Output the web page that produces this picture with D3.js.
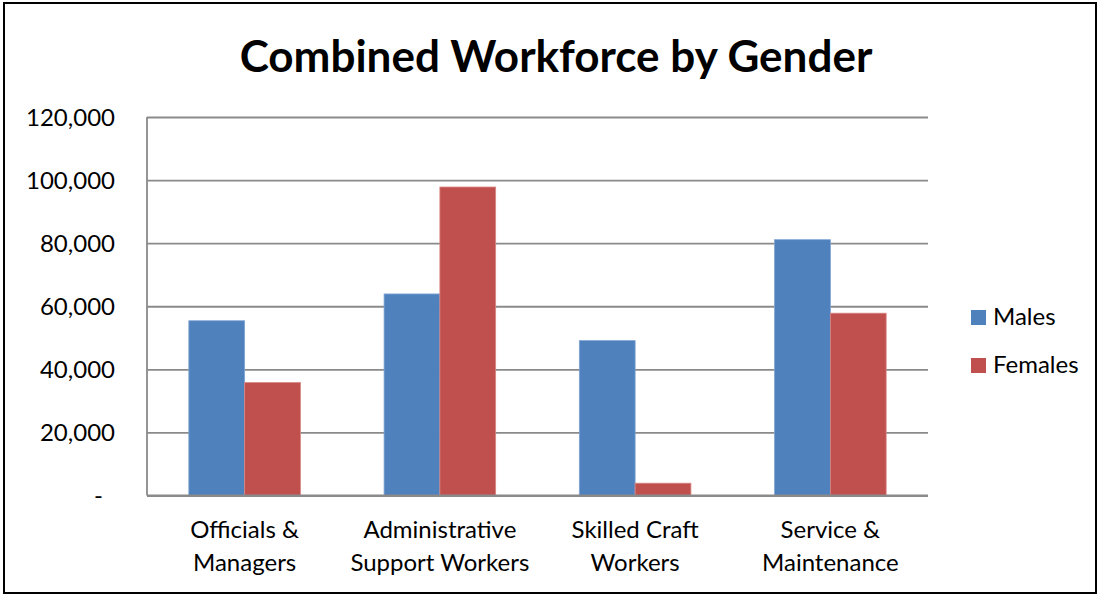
<!DOCTYPE html>
<html>
<head>
<meta charset="utf-8">
<script src="https://cdn.jsdelivr.net/npm/d3@7"></script>
<style>
  html, body { margin: 0; padding: 0; background: #fff; }
  svg { display: block; font-family: Lato, "Open Sans", sans-serif; }
</style>
</head>
<body>
<svg id="chart" width="1100" height="595"></svg>
<script>
// Workforce headcount by job category and gender
const categories = [
  ["Officials &", "Managers"],
  ["Administrative", "Support Workers"],
  ["Skilled Craft", "Workers"],
  ["Service &", "Maintenance"]
];
const seriesNames = ["Males", "Females"];
const males   = [55400, 63900, 49100, 81100];
const females = [35800, 97800, 3900, 57800];
const yTicks  = [0, 20000, 40000, 60000, 80000, 100000, 120000];
const colors  = ["#4F81BD", "#C0504D"];

const svg = d3.select("#chart");

// outer frame
svg.append("rect")
  .attr("x", 4).attr("y", 3).attr("width", 1092).attr("height", 590)
  .attr("fill", "#fff").attr("stroke", "#000").attr("stroke-width", 2);

// title
svg.append("text")
  .attr("x", 556).attr("y", 72)
  .attr("text-anchor", "middle")
  .attr("font-weight", "bold")
  .attr("font-size", 44)
  .attr("fill", "#000")
  .text("Combined Workforce by Gender");

const plot = { left: 147, right: 928, top: 117, bottom: 495.5 };

const x0 = d3.scaleBand()
  .domain(d3.range(categories.length))
  .range([plot.left, plot.right])
  .paddingInner(1.5 / 3.5)
  .paddingOuter(0.75 / 3.5);

const x1 = d3.scaleBand()
  .domain(d3.range(seriesNames.length))
  .range([0, x0.bandwidth()]);

const y = d3.scaleLinear()
  .domain([0, 120000])
  .range([plot.bottom, plot.top]);

// gridlines and value axis
const fmt = d3.format(",");
const yAxis = svg.append("g")
  .attr("transform", `translate(${plot.left},0)`)
  .call(d3.axisLeft(y)
    .tickValues(yTicks)
    .tickSize(-(plot.right - plot.left))
    .tickPadding(32)
    .tickFormat(d => d === 0 ? "-" : fmt(d)));

yAxis.select(".domain").remove();
yAxis.selectAll(".tick line")
  .attr("stroke", "#8a8a8a")
  .attr("stroke-width", 1.8);
yAxis.selectAll(".tick text")
  .attr("font-size", 24)
  .attr("fill", "#000")
  .attr("dy", "0.34em")
  .attr("font-family", "Lato, 'Open Sans', sans-serif");
yAxis.selectAll(".tick").filter(d => d === 0).select("text")
  .attr("x", -44);

// left axis line
svg.append("line")
  .attr("x1", plot.left).attr("x2", plot.left)
  .attr("y1", plot.top).attr("y2", plot.bottom)
  .attr("stroke", "#8a8a8a").attr("stroke-width", 1.8);

// bars
const groups = svg.append("g").selectAll("g")
  .data(categories.map((c, i) => [males[i], females[i]]))
  .join("g")
  .attr("transform", (d, i) => `translate(${x0(i)},0)`);

groups.selectAll("rect")
  .data(d => d.map((v, s) => ({ v, s })))
  .join("rect")
  .attr("x", d => x1(d.s))
  .attr("width", x1.bandwidth())
  .attr("y", d => y(d.v))
  .attr("height", d => y(0) - y(d.v))
  .attr("fill", d => colors[d.s])
  .attr("stroke", d => d.s === 0 ? "#7fa3d3" : "#d98784")
  .attr("stroke-width", 0.8);

// baseline on top of bars
svg.append("line")
  .attr("x1", plot.left).attr("x2", plot.right)
  .attr("y1", plot.bottom).attr("y2", plot.bottom)
  .attr("stroke", "#8a8a8a").attr("stroke-width", 2);

// category labels
const catLabels = svg.append("g").selectAll("text")
  .data(categories)
  .join("text")
  .attr("text-anchor", "middle")
  .attr("font-size", 24)
  .attr("fill", "#000")
  .attr("x", (d, i) => x0(i) + x0.bandwidth() / 2);
catLabels.selectAll("tspan")
  .data(d => d)
  .join("tspan")
  .attr("x", function () { return this.parentNode.getAttribute("x"); })
  .attr("y", (d, j) => 538 + j * 33)
  .text(d => d);

// legend
const legend = svg.append("g").selectAll("g")
  .data(seriesNames)
  .join("g")
  .attr("transform", (d, i) => `translate(971,${310 + i * 48})`);
legend.append("rect")
  .attr("width", 15).attr("height", 15)
  .attr("fill", (d, i) => colors[i]);
legend.append("text")
  .attr("x", 22).attr("y", 15)
  .attr("font-size", 24)
  .attr("fill", "#000")
  .text(d => d);
</script>
</body>
</html>
